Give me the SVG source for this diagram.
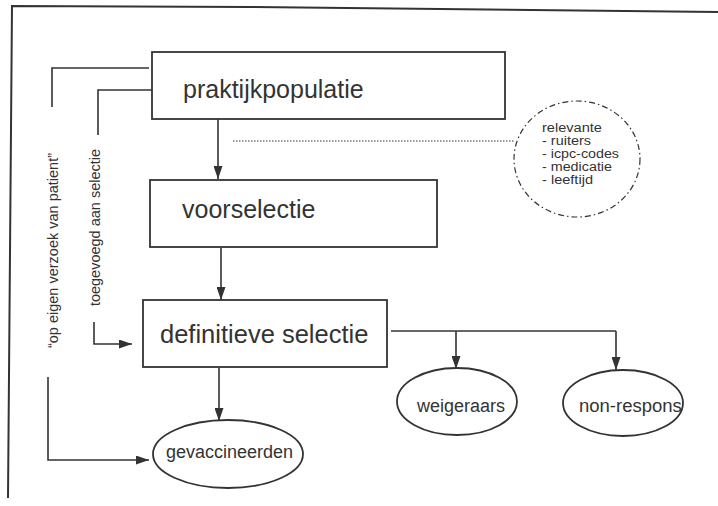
<svg xmlns="http://www.w3.org/2000/svg" width="718" height="506" viewBox="0 0 718 506">
<style>
  .ln{fill:none;stroke:#333;stroke-width:1.6}
  .box{fill:#fff;stroke:#333;stroke-width:1.8}
  .t{font-family:"Liberation Sans",Arial,sans-serif;fill:#333}
  .big{font-size:25px}
  .mid{font-size:18px}
  .sm{font-size:14.5px}
  .xs{font-size:12.5px}
</style>
<defs>
  <marker id="ah" markerUnits="userSpaceOnUse" markerWidth="14" markerHeight="9" refX="13" refY="4.5" orient="auto">
    <path d="M0,0 L13,4.5 L0,9 z" fill="#333"/>
  </marker>
</defs>
<rect width="718" height="506" fill="#fff"/>
<g id="frame">
  <path d="M718,12 L250,7 L12,6 L8,498" fill="none" stroke="#333" stroke-width="2"/>
</g>
<g id="connectors">
  <line class="ln" x1="218" y1="119" x2="218" y2="179" marker-end="url(#ah)"/>
  <line class="ln" x1="221" y1="248" x2="221" y2="300" marker-end="url(#ah)"/>
  <line class="ln" x1="219" y1="368" x2="219" y2="421" marker-end="url(#ah)"/>
  <polyline class="ln" points="391,331 616,331"/>
  <line class="ln" x1="456" y1="331" x2="456" y2="369" marker-end="url(#ah)"/>
  <line class="ln" x1="616" y1="331" x2="616" y2="370" marker-end="url(#ah)"/>
  <polyline class="ln" points="149,68 52,68 52,107"/>
  <polyline class="ln" points="152,90 98,90 98,135"/>
  <polyline class="ln" points="94,322 94,344 132,344" marker-end="url(#ah)"/>
  <polyline class="ln" points="48,377 48,460 149,460" marker-end="url(#ah)"/>
  <line x1="233" y1="141" x2="515" y2="141" stroke="#333" stroke-width="1.1" stroke-dasharray="1.5 1.5"/>
</g>
<g id="n-praktijkpopulatie">
  <rect class="box" x="152" y="52" width="353" height="67"/>
  <text class="t big" x="183" y="98">praktijkpopulatie</text>
</g>
<g id="n-voorselectie">
  <rect class="box" x="150" y="180" width="287" height="67"/>
  <text class="t big" x="182" y="218">voorselectie</text>
</g>
<g id="n-definitieve">
  <rect class="box" x="143" y="300" width="244" height="67"/>
  <text class="t" font-size="25.5" x="160" y="343">definitieve selectie</text>
</g>
<g id="n-gevaccineerden">
  <ellipse class="box" cx="228" cy="454" rx="75" ry="34"/>
  <text class="t mid" x="166" y="458">gevaccineerden</text>
</g>
<g id="n-weigeraars">
  <ellipse class="box" cx="457" cy="401.5" rx="60" ry="33.5"/>
  <text class="t mid" x="417" y="412">weigeraars</text>
</g>
<g id="n-nonrespons">
  <ellipse class="box" cx="623" cy="403" rx="60" ry="33"/>
  <text class="t" font-size="18.5" x="579" y="412">non-respons</text>
</g>
<g id="n-relevante">
  <ellipse cx="577" cy="159" rx="63" ry="58" fill="none" stroke="#333" stroke-width="1.2" stroke-dasharray="6 3 1.5 3"/>
  <text class="t xs" x="542" y="132" textLength="60" lengthAdjust="spacingAndGlyphs">relevante</text>
  <text class="t xs" x="542" y="145" textLength="49" lengthAdjust="spacingAndGlyphs">- ruiters</text>
  <text class="t xs" x="542" y="158" textLength="77" lengthAdjust="spacingAndGlyphs">- icpc-codes</text>
  <text class="t xs" x="542" y="171" textLength="70" lengthAdjust="spacingAndGlyphs">- medicatie</text>
  <text class="t xs" x="542" y="184" textLength="51" lengthAdjust="spacingAndGlyphs">- leeftijd</text>
</g>
<g id="labels">
  <text class="t sm" text-anchor="middle" transform="translate(58,250.5) rotate(-90)">“op eigen verzoek van patient”</text>
  <text class="t sm" text-anchor="middle" transform="translate(100,227.5) rotate(-90)">toegevoegd aan selectie</text>
</g>
</svg>
